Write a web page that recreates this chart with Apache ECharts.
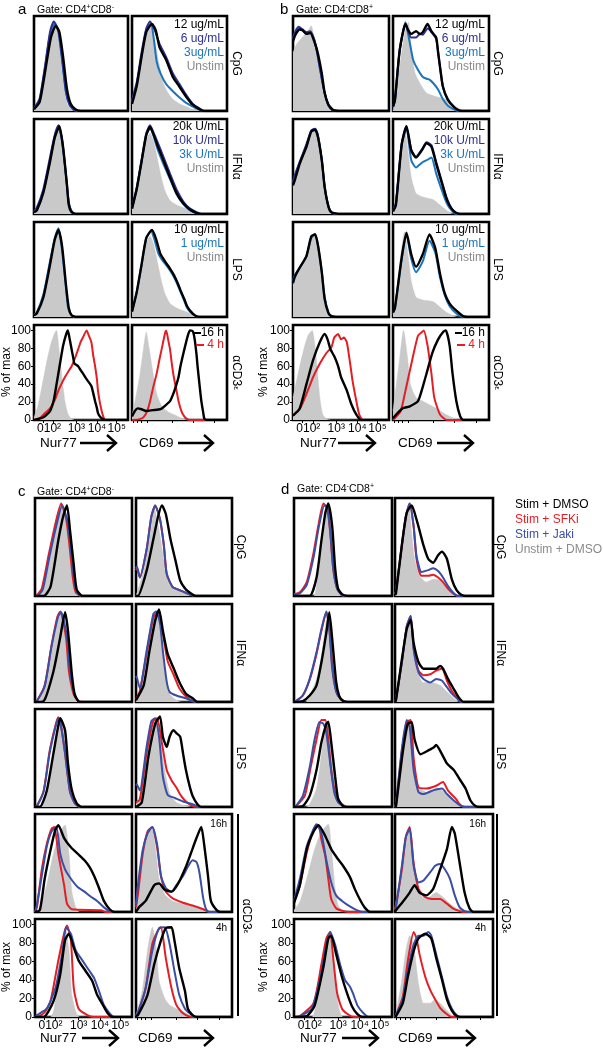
<!DOCTYPE html>
<html><head><meta charset="utf-8">
<script src="https://cdn.jsdelivr.net/npm/echarts@6/dist/echarts.min.js"></script>
<style>html,body{margin:0;padding:0;background:#fff}#c{width:603px;height:1050px}</style>
</head><body><div id="c"></div>
<script>
// ---------- labels ----------
const legendCpG = ['12 ug/mL','6 ug/mL','3ug/mL','Unstim'];
const legendIFN = ['20k U/mL','10k U/mL','3k U/mL','Unstim'];
const legendLPS = ['10 ug/mL','1 ug/mL','Unstim'];
const legendTime = ['16 h','4 h'];
const legendTreat = ['Stim + DMSO','Stim + SFKi','Stim + Jaki','Unstim + DMSO'];
const rowLabels = ['CpG','IFNα','LPS'];
const nurTickVals = [10,21,45,67,88];
const nurLabelVals = [16,45,67,88];
const nurTickLabels = ['010²','10³','10⁴','10⁵'];
const cd69TickVals = [1,5,10,16,42,64,87];
const yTickVals = [0,20,40,60,80,100];
const yTickLabels = ['0','20','40','60','80','100'];

// ---------- data: [position %, % of max] ; order = grey, blue, navy, black ----------
const aCpGNur = [
 [[0,3],[6,12],[12,48],[17,82],[22,97],[26,84],[29,52],[33,18],[36,6],[40,1],[45,0],[100,0]],
 [[0,2],[6,12],[12,50],[17,85],[22,98],[26,88],[30,55],[34,20],[38,6],[43,1],[50,0],[100,0]],
 [[0,3],[6,14],[12,52],[17,88],[21,100],[26,90],[30,58],[34,22],[38,7],[43,1],[50,0],[100,0]],
 [[0,2],[6,10],[12,45],[18,82],[23,95],[27,88],[31,60],[35,25],[39,8],[44,2],[50,0],[100,0]]];
const aCpGCD69 = [
 [[0,8],[5,28],[10,60],[15,88],[20,93],[24,78],[28,55],[33,31],[38,20],[43,13],[50,8],[57,5],[64,2],[71,1],[75,0],[100,0]],
 [[0,10],[5,30],[10,62],[15,90],[20,98],[23,80],[26,55],[30,42],[36,30],[43,22],[50,15],[57,9],[64,5],[70,2],[75,0],[100,0]],
 [[0,12],[5,32],[10,65],[15,92],[19,100],[24,90],[29,75],[36,60],[43,42],[50,30],[57,18],[64,8],[71,3],[76,0],[100,0]],
 [[0,8],[5,28],[10,60],[15,88],[21,97],[25,90],[29,71],[36,57],[43,38],[50,27],[57,16],[64,7],[71,2],[76,0],[100,0]]];
const aIFNNur = [
 [[0,3],[3,6],[10,28],[17,62],[22,86],[26,96],[29,82],[32,50],[35,20],[38,5],[41,1],[45,0],[100,0]],
 [[0,2],[3,5],[10,25],[17,60],[22,86],[26,98],[30,80],[34,42],[37,12],[40,3],[44,0],[100,0]],
 [[0,3],[3,7],[10,28],[17,63],[22,88],[26,99],[30,82],[34,44],[37,13],[40,3],[44,0],[100,0]],
 [[0,2],[3,4],[10,24],[17,58],[22,85],[27,98],[31,74],[35,33],[37,10],[40,2],[45,0],[100,0]]];
const aIFNCD69 = [
 [[0,5],[5,25],[10,55],[15,82],[19,90],[23,80],[27,60],[31,40],[35,25],[40,15],[47,10],[54,7],[61,4],[68,1],[72,0],[100,0]],
 [[0,6],[5,28],[10,58],[15,88],[19,96],[23,86],[27,72],[33,56],[40,39],[47,22],[54,11],[61,4],[68,1],[73,0],[100,0]],
 [[0,7],[5,30],[10,60],[15,90],[19,99],[23,90],[27,80],[33,64],[40,45],[47,27],[54,14],[61,6],[68,2],[73,0],[100,0]],
 [[0,6],[5,28],[10,58],[15,88],[19,97],[23,88],[27,76],[33,60],[40,41],[47,23],[54,12],[61,5],[68,1],[73,0],[100,0]]];
// order = grey, blue, black
const aLPSNur = [
 [[0,3],[3,6],[10,28],[17,64],[22,88],[25,97],[28,82],[31,50],[34,20],[37,5],[40,1],[44,0],[100,0]],
 [[0,2],[3,5],[10,25],[17,62],[22,88],[26,99],[29,82],[33,42],[36,12],[39,3],[43,0],[100,0]],
 [[0,2],[3,4],[10,22],[17,58],[22,86],[26,97],[30,78],[34,36],[37,10],[40,2],[45,0],[100,0]]];
const aLPSCD69 = [
 [[0,5],[5,25],[10,55],[15,82],[19,90],[23,80],[27,60],[31,40],[35,25],[40,15],[47,10],[54,7],[61,4],[68,1],[72,0],[100,0]],
 [[0,6],[5,28],[10,58],[15,88],[20,96],[24,85],[28,70],[32,63],[36,58],[40,52],[44,45],[48,36],[51,28],[55,18],[58,10],[62,5],[66,2],[70,0],[100,0]],
 [[0,6],[5,28],[10,58],[15,88],[21,97],[25,88],[30,70],[33,65],[36,60],[40,54],[44,47],[48,38],[51,30],[55,20],[58,12],[62,6],[66,2],[71,0],[100,0]]];
// order = grey, red (4 h), black (16 h)
const aCD3Nur = [
 [[0,3],[4,15],[8,35],[13,62],[18,85],[22,97],[24,100],[27,75],[30,45],[33,20],[36,7],[39,2],[43,0],[100,0]],
 [[0,0],[6,2],[12,8],[17,13],[22,22],[26,33],[30,42],[33,48],[37,55],[40,60],[44,70],[47,79],[50,88],[52,92],[56,100],[58,95],[61,87],[63,72],[65,60],[67,45],[68,33],[70,20],[72,10],[74,3],[76,0],[100,0]],
 [[0,0],[10,3],[17,10],[21,22],[24,40],[28,65],[31,83],[34,95],[36,100],[38,90],[40,79],[42,68],[43,63],[47,60],[50,55],[52,52],[55,47],[57,44],[61,38],[63,30],[65,21],[67,13],[68,8],[70,4],[72,2],[76,0],[100,0]]];
const aCD3CD69 = [
 [[0,5],[3,20],[8,48],[12,79],[15,98],[18,80],[21,60],[24,40],[26,29],[30,18],[33,13],[38,9],[44,6],[50,3],[55,1],[58,0],[100,0]],
 [[0,0],[8,1],[12,3],[16,10],[19,21],[22,35],[26,52],[29,68],[32,83],[35,98],[36,100],[38,90],[40,79],[42,62],[44,48],[47,32],[49,21],[52,10],[55,4],[58,1],[61,0],[100,0]],
 [[0,4],[3,10],[6,13],[10,12],[15,10],[22,11],[30,12],[35,16],[40,21],[43,28],[46,37],[49,48],[51,60],[54,74],[57,87],[59,95],[61,100],[64,99],[66,90],[68,72],[69,60],[71,40],[73,21],[75,8],[76,2],[78,0],[100,0]]];

const bCpGNur = [
 [[0,65],[4,75],[8,80],[12,85],[16,90],[19,95],[22,82],[25,68],[28,50],[31,32],[33,18],[36,7],[39,2],[43,0],[100,0]],
 [[0,80],[3,88],[6,92],[10,90],[14,86],[18,88],[22,80],[25,66],[28,48],[31,30],[34,16],[37,6],[41,1],[48,0],[100,0]],
 [[0,82],[3,90],[6,94],[10,91],[14,88],[18,89],[22,80],[25,66],[28,48],[31,30],[34,16],[37,6],[41,1],[48,0],[100,0]],
 [[0,78],[3,86],[7,91],[10,90],[14,86],[18,87],[23,75],[26,64],[30,42],[33,20],[37,7],[42,1],[49,0],[100,0]]];
const bCpGCD69 = [
 [[0,0],[2,13],[7,49],[12,86],[16,99],[19,68],[23,42],[28,31],[35,20],[45,16],[56,13],[63,7],[70,2],[75,0],[100,0]],
 [[0,5],[2,12],[7,68],[13,99],[17,79],[21,57],[26,46],[31,38],[35,36],[38,35],[42,31],[47,24],[52,13],[57,6],[63,2],[68,0],[100,0]],
 [[0,5],[2,12],[7,68],[13,97],[16,88],[19,82],[24,82],[28,86],[31,85],[36,92],[40,88],[45,80],[49,49],[52,27],[57,13],[63,5],[68,1],[72,0],[100,0]],
 [[0,5],[2,12],[7,68],[13,97],[16,90],[19,86],[24,89],[28,86],[31,88],[36,97],[40,89],[45,82],[47,65],[49,49],[52,27],[57,13],[63,5],[68,1],[72,0],[100,0]]];
const bIFNNur = [
 [[0,30],[2,38],[7,52],[14,72],[19,90],[22,95],[26,82],[29,58],[31,40],[33,25],[36,10],[38,4],[42,0],[100,0]],
 [[0,35],[2,42],[7,58],[14,76],[19,93],[23,95],[26,88],[30,60],[33,30],[37,8],[40,2],[45,0],[100,0]],
 [[0,36],[2,44],[7,58],[14,78],[19,93],[23,95],[26,86],[30,60],[33,30],[37,8],[40,2],[45,0],[100,0]],
 [[0,32],[2,38],[7,56],[14,75],[19,92],[23,94],[26,86],[30,60],[33,30],[37,8],[40,2],[49,0],[100,0]]];
const bIFNCD69 = [
 [[0,3],[2,12],[7,60],[12,96],[16,67],[19,41],[24,23],[31,19],[42,16],[49,10],[56,4],[63,0],[100,0]],
 [[0,3],[3,10],[9,77],[14,96],[19,60],[24,52],[31,58],[35,60],[40,63],[45,45],[51,26],[56,12],[61,4],[66,0],[100,0]],
 [[0,4],[3,12],[9,78],[14,98],[19,72],[24,64],[30,72],[35,80],[40,77],[45,58],[51,36],[56,18],[61,6],[66,1],[70,0],[100,0]],
 [[0,3],[3,10],[9,77],[14,98],[19,71],[24,63],[30,71],[35,79],[40,75],[45,56],[51,34],[56,16],[61,6],[66,1],[70,0],[100,0]]];
const bLPSNur = [
 [[0,35],[2,42],[7,52],[14,65],[19,85],[22,92],[26,80],[29,55],[31,35],[33,18],[36,6],[39,1],[43,0],[100,0]],
 [[0,40],[2,47],[7,55],[14,68],[19,88],[23,93],[26,80],[30,50],[33,22],[37,5],[40,1],[45,0],[100,0]],
 [[0,38],[2,45],[7,55],[14,68],[19,90],[23,92],[26,80],[30,50],[33,20],[37,4],[40,1],[45,0],[100,0]]];
const bLPSCD69 = [
 [[0,3],[2,12],[7,60],[12,95],[16,66],[19,40],[24,22],[31,19],[42,17],[49,11],[56,5],[63,1],[66,0],[100,0]],
 [[0,5],[2,10],[9,64],[14,92],[19,65],[24,50],[31,62],[38,85],[44,72],[49,44],[54,24],[59,12],[66,4],[73,0],[100,0]],
 [[0,5],[2,10],[9,66],[14,94],[19,70],[24,56],[31,70],[38,92],[44,77],[49,48],[54,26],[59,15],[66,7],[73,1],[78,0],[100,0]]];
const bCD3Nur = [
 [[0,25],[7,60],[12,82],[16,95],[20,100],[23,82],[25,60],[28,24],[31,6],[35,1],[40,0],[100,0]],
 [[0,5],[7,12],[14,29],[21,48],[28,63],[35,75],[40,81],[43,92],[47,96],[50,90],[53,92],[56,87],[59,67],[62,44],[66,21],[69,6],[73,0],[100,0]],
 [[0,5],[7,13],[14,40],[21,67],[28,87],[33,96],[36,90],[39,79],[43,71],[47,60],[50,48],[56,33],[61,17],[66,6],[71,0],[100,0]]];
const bCD3CD69 = [
 [[0,10],[6,60],[11,100],[15,71],[18,40],[24,25],[31,21],[38,17],[45,13],[52,8],[59,4],[66,1],[70,0],[100,0]],
 [[0,0],[8,10],[13,33],[20,67],[26,94],[30,98],[32,100],[36,83],[40,52],[43,25],[49,6],[56,0],[100,0]],
 [[0,2],[10,13],[17,15],[26,21],[31,37],[36,56],[41,75],[47,90],[52,98],[55,100],[59,83],[62,52],[66,21],[70,4],[73,0],[100,0]]];

// panels c/d: order = grey (Unstim+DMSO), red (SFKi), blue (Jaki), black (DMSO)
const cCpGNur = [
 [[0,0],[6,4],[13,27],[20,68],[25,89],[29,98],[33,83],[38,43],[42,14],[45,2],[49,0],[100,0]],
 [[0,0],[2,1],[7,8],[14,44],[21,78],[27,100],[32,84],[35,60],[39,20],[42,4],[48,0],[100,0]],
 [[0,0],[2,0],[8,7],[15,43],[22,76],[28,98],[33,83],[36,60],[40,21],[43,4],[49,0],[100,0]],
 [[0,0],[9,0],[16,10],[24,60],[29,86],[33,98],[36,72],[40,33],[43,7],[49,0],[100,0]]];
const cCpGCD69 = [
 [[0,0],[8,27],[15,68],[19,95],[24,72],[29,39],[34,14],[39,7],[50,4],[57,0],[100,0]],
 [[0,28],[1,30],[4,20],[11,50],[16,86],[20,98],[25,83],[29,55],[32,24],[38,10],[46,6],[53,3],[62,0],[100,0]],
 [[0,30],[1,32],[4,20],[11,50],[16,86],[20,98],[25,83],[29,55],[32,24],[38,10],[46,6],[53,3],[62,0],[100,0]],
 [[0,0],[2,0],[11,27],[18,61],[23,86],[27,98],[31,89],[36,61],[41,39],[46,17],[52,7],[57,3],[62,0],[100,0]]];
const cIFNNur = [
 [[0,0],[5,3],[15,43],[22,82],[27,98],[33,63],[38,22],[41,5],[46,0],[100,0]],
 [[0,0],[2,1],[10,18],[17,61],[23,92],[26,98],[32,70],[35,33],[40,8],[45,1],[50,0],[100,0]],
 [[0,0],[2,1],[10,17],[17,60],[24,93],[27,97],[33,70],[36,33],[41,8],[46,0],[100,0]],
 [[0,0],[9,1],[19,33],[26,70],[31,97],[34,77],[38,30],[41,8],[46,0],[100,0]]];
const cIFNCD69 = [
 [[0,0],[4,11],[11,52],[16,81],[21,97],[25,81],[30,33],[35,9],[42,2],[48,0],[100,0]],
 [[0,3],[4,12],[11,52],[18,91],[23,98],[28,74],[33,44],[39,30],[45,15],[52,6],[59,1],[64,0],[100,0]],
 [[0,28],[1,26],[4,15],[11,55],[18,95],[21,98],[25,85],[28,55],[32,22],[35,11],[42,7],[52,4],[63,0],[100,0]],
 [[0,2],[8,18],[14,55],[20,88],[24,100],[28,77],[33,52],[39,37],[45,22],[52,9],[59,4],[64,0],[100,0]]];
const cLPSNur = [
 [[0,0],[5,1],[9,5],[17,40],[22,76],[27,96],[31,76],[34,40],[38,12],[43,1],[47,0],[100,0]],
 [[0,0],[2,1],[9,18],[15,60],[21,88],[24,97],[27,87],[31,58],[36,17],[41,4],[47,0],[100,0]],
 [[0,0],[2,1],[9,17],[15,58],[21,86],[24,96],[27,86],[31,58],[36,17],[41,4],[47,0],[100,0]],
 [[0,0],[5,0],[12,17],[19,58],[24,88],[26,96],[31,83],[34,47],[38,18],[43,4],[48,0],[100,0]]];
const cLPSCD69 = [
 [[0,3],[4,12],[11,58],[16,86],[20,93],[25,76],[30,40],[35,15],[42,5],[52,1],[58,0],[100,0]],
 [[0,5],[4,8],[11,58],[18,93],[22,96],[27,69],[32,40],[37,29],[42,21],[47,12],[52,6],[59,1],[64,0],[100,0]],
 [[0,25],[1,24],[4,18],[11,65],[16,93],[20,96],[24,76],[28,33],[33,13],[40,10],[49,6],[59,3],[66,0],[100,0]],
 [[0,0],[6,5],[13,55],[20,90],[25,98],[28,76],[32,65],[35,76],[39,83],[42,80],[46,76],[49,58],[52,40],[56,22],[59,12],[64,3],[68,0],[100,0]]];
const cCD3hNur16 = [
 [[0,0],[5,5],[12,29],[19,63],[26,87],[31,94],[35,63],[38,22],[42,5],[46,0],[100,0]],
 [[0,0],[2,5],[7,46],[12,73],[17,90],[20,92],[24,63],[30,29],[33,9],[38,3],[68,2],[73,0],[100,0]],
 [[0,0],[2,8],[7,39],[12,70],[17,87],[22,92],[26,63],[31,46],[37,36],[44,27],[51,22],[57,17],[64,12],[71,5],[77,1],[82,0],[100,0]],
 [[0,0],[5,2],[10,36],[16,67],[21,89],[24,94],[30,80],[37,70],[44,63],[51,56],[56,49],[61,39],[66,26],[71,12],[77,3],[82,0],[100,0]]];
const cCD3hCD6916 = [
 [[0,3],[2,12],[7,63],[12,87],[17,89],[21,63],[24,36],[30,19],[38,12],[49,9],[59,7],[70,3],[76,0],[100,0]],
 [[0,5],[2,19],[7,63],[12,87],[17,92],[22,70],[26,39],[31,22],[38,15],[49,10],[59,7],[70,3],[76,0],[100,0]],
 [[0,8],[2,29],[7,67],[12,85],[17,92],[22,73],[26,39],[31,26],[37,22],[42,29],[49,39],[54,49],[59,56],[63,54],[66,43],[70,15],[73,3],[76,0],[100,0]],
 [[0,0],[3,5],[10,12],[19,29],[24,31],[30,24],[37,22],[44,31],[52,49],[57,63],[63,80],[68,92],[71,73],[75,39],[78,12],[84,2],[88,0],[100,0]]];
const cCD3hNur4 = [
 [[0,0],[16,0],[20,10],[24,53],[28,83],[31,97],[35,72],[38,24],[42,6],[46,0],[100,0]],
 [[0,0],[2,0],[10,5],[16,17],[24,61],[30,90],[33,99],[37,83],[40,31],[45,9],[54,2],[60,0],[100,0]],
 [[0,0],[2,2],[12,9],[21,31],[28,68],[32,97],[37,90],[42,72],[49,61],[56,50],[61,42],[66,28],[71,13],[77,4],[82,0],[100,0]],
 [[0,0],[9,0],[19,17],[26,46],[31,83],[35,90],[40,75],[45,61],[52,50],[59,39],[64,24],[70,13],[75,4],[80,0],[100,0]]];
const cCD3hCD694 = [
 [[0,3],[2,9],[7,31],[12,72],[17,97],[21,75],[24,39],[30,20],[35,13],[42,9],[49,6],[56,2],[62,0],[100,0]],
 [[0,1],[2,4],[10,31],[17,79],[23,94],[26,97],[31,64],[37,31],[42,13],[47,6],[52,2],[58,0],[100,0]],
 [[0,2],[2,5],[10,31],[17,72],[24,96],[30,97],[35,79],[40,50],[45,24],[51,9],[56,4],[62,0],[100,0]],
 [[0,1],[2,2],[12,24],[19,57],[26,83],[31,96],[37,97],[40,83],[45,53],[51,28],[54,9],[59,2],[64,0],[100,0]]];

const dCpGNur = [
 [[0,0],[20,0],[24,20],[29,55],[32,86],[35,100],[39,68],[42,24],[45,4],[49,0],[100,0]],
 [[0,2],[6,4],[13,15],[20,47],[25,77],[30,100],[34,95],[37,68],[40,30],[44,8],[49,1],[55,0],[100,0]],
 [[0,2],[6,3],[13,12],[20,42],[25,73],[31,98],[34,95],[37,70],[40,30],[44,8],[49,1],[55,0],[100,0]],
 [[0,0],[16,0],[23,20],[28,60],[32,90],[35,100],[39,75],[42,30],[45,8],[49,2],[55,0],[100,0]]];
const dCpGCD69 = [
 [[0,1],[1,3],[7,55],[10,75],[14,100],[17,68],[20,40],[25,22],[32,15],[39,18],[46,17],[53,9],[59,2],[63,0],[100,0]],
 [[0,2],[1,5],[7,55],[11,86],[15,100],[19,75],[22,40],[27,22],[34,22],[39,23],[44,20],[49,15],[54,8],[59,3],[64,0],[100,0]],
 [[0,2],[1,5],[7,55],[11,86],[15,100],[19,76],[22,43],[27,26],[34,28],[39,30],[44,27],[49,20],[54,11],[59,4],[64,0],[100,0]],
 [[0,1],[1,3],[7,55],[12,90],[17,98],[20,90],[24,75],[29,55],[34,40],[39,36],[44,44],[48,48],[53,40],[58,18],[63,6],[68,1],[72,0],[100,0]]];
const dIFNNur = [
 [[0,0],[12,0],[16,7],[23,25],[28,50],[32,82],[35,96],[38,72],[42,25],[45,7],[50,1],[54,0],[100,0]],
 [[0,0],[2,1],[9,7],[16,24],[23,52],[28,77],[33,97],[36,82],[39,40],[43,12],[47,4],[54,0],[100,0]],
 [[0,0],[2,1],[9,7],[16,25],[23,54],[28,79],[33,98],[36,79],[39,36],[43,11],[47,4],[54,0],[100,0]],
 [[0,0],[9,1],[16,7],[23,18],[28,43],[33,75],[36,97],[39,68],[43,22],[46,7],[50,1],[55,0],[100,0]]];
const dIFNCD69 = [
 [[0,0],[1,2],[7,39],[11,75],[15,89],[18,57],[24,29],[29,21],[37,21],[46,18],[53,11],[60,4],[65,0],[100,0]],
 [[0,0],[1,3],[7,43],[12,82],[16,93],[19,58],[24,34],[29,29],[36,30],[42,34],[48,36],[53,23],[58,12],[63,5],[68,0],[100,0]],
 [[0,0],[1,3],[7,43],[12,82],[16,93],[19,57],[24,32],[29,25],[36,21],[42,25],[48,23],[53,16],[58,9],[63,4],[68,0],[100,0]],
 [[0,0],[1,2],[7,46],[12,79],[16,89],[19,64],[24,43],[29,36],[36,36],[42,36],[46,39],[49,36],[54,25],[60,14],[65,5],[70,0],[100,0]]];
const dLPSNur = [
 [[0,0],[12,0],[16,3],[23,20],[28,57],[32,87],[35,94],[38,73],[42,27],[45,7],[50,0],[100,0]],
 [[0,0],[2,1],[11,12],[17,43],[23,73],[28,94],[32,94],[35,73],[38,40],[42,16],[47,5],[54,0],[100,0]],
 [[0,0],[2,1],[9,12],[16,43],[21,73],[26,92],[30,90],[33,80],[37,47],[41,16],[45,5],[54,0],[100,0]],
 [[0,0],[9,1],[16,12],[23,40],[28,70],[33,90],[35,92],[38,70],[42,33],[45,9],[50,1],[55,0],[100,0]]];
const dLPSCD69 = [
 [[0,0],[1,3],[7,57],[11,87],[15,90],[19,53],[24,23],[32,16],[42,20],[51,16],[56,10],[63,3],[70,0],[100,0]],
 [[0,0],[1,3],[7,60],[12,92],[16,94],[19,53],[24,21],[32,20],[42,23],[49,27],[54,18],[62,9],[66,3],[71,0],[100,0]],
 [[0,0],[1,3],[7,63],[12,94],[15,87],[19,40],[24,16],[29,14],[39,18],[48,20],[53,14],[60,7],[66,2],[71,0],[100,0]],
 [[0,0],[1,1],[8,60],[13,90],[17,92],[20,73],[26,57],[32,60],[39,64],[42,67],[48,57],[53,47],[60,40],[66,30],[72,20],[77,7],[82,1],[86,0],[100,0]]];
const dCD3hNur16 = [
 [[0,2],[6,11],[13,36],[20,64],[27,85],[35,95],[38,71],[42,25],[45,7],[50,1],[55,0],[100,0]],
 [[0,10],[6,29],[13,64],[20,89],[25,94],[28,78],[32,60],[35,36],[38,14],[43,4],[50,1],[56,0],[100,0]],
 [[0,12],[6,36],[13,71],[20,90],[23,95],[28,85],[33,56],[38,32],[43,18],[50,11],[57,6],[64,2],[70,0],[100,0]],
 [[0,10],[6,29],[13,68],[20,87],[25,94],[32,82],[38,68],[45,57],[50,50],[57,38],[62,25],[67,14],[72,5],[78,0],[100,0]]];
const dCD3hCD6916 = [
 [[0,5],[1,11],[7,46],[11,81],[15,92],[19,46],[24,21],[32,14],[42,21],[49,16],[56,9],[63,4],[70,1],[74,0],[100,0]],
 [[0,3],[1,7],[7,46],[11,81],[15,92],[19,53],[24,25],[31,16],[39,14],[46,14],[53,9],[59,4],[66,1],[70,0],[100,0]],
 [[0,2],[1,5],[7,50],[11,81],[15,90],[19,50],[24,32],[29,34],[36,43],[41,50],[46,52],[51,46],[56,36],[61,18],[66,5],[71,1],[75,0],[100,0]],
 [[0,0],[1,2],[8,11],[15,21],[20,29],[25,21],[32,18],[39,25],[46,46],[53,68],[58,92],[61,85],[66,53],[71,21],[76,4],[80,0],[100,0]]];
const dCD3hNur4 = [
 [[0,0],[18,0],[20,2],[27,33],[32,68],[36,92],[39,75],[43,29],[46,9],[50,0],[100,0]],
 [[0,0],[6,1],[20,15],[28,57],[33,85],[37,92],[40,64],[44,26],[49,9],[55,3],[61,0],[100,0]],
 [[0,0],[6,1],[18,9],[27,43],[33,78],[37,92],[42,78],[47,57],[52,40],[57,33],[60,26],[65,12],[71,4],[76,0],[100,0]],
 [[0,0],[13,1],[21,12],[30,54],[35,85],[38,88],[43,68],[49,43],[54,26],[59,12],[64,4],[70,0],[100,0]]];
const dCD3hCD694 = [
 [[0,0],[1,3],[7,40],[11,71],[15,88],[19,78],[24,36],[29,15],[36,15],[41,19],[46,15],[53,7],[59,1],[62,0],[100,0]],
 [[0,0],[1,2],[8,22],[13,60],[19,92],[22,85],[25,68],[31,43],[36,29],[41,19],[46,10],[53,3],[58,0],[100,0]],
 [[0,0],[1,2],[8,19],[13,50],[19,78],[24,88],[29,88],[34,92],[37,88],[42,68],[48,43],[53,22],[58,9],[63,2],[67,0],[100,0]],
 [[0,0],[1,1],[8,15],[13,43],[19,71],[24,85],[31,90],[37,85],[42,64],[48,40],[53,19],[58,7],[63,1],[67,0],[100,0]]];

// ---------- styling ----------
const FONT = '"Liberation Sans", Arial, Helvetica, sans-serif';
const COL = {grey:'#c9c9c9', black:'#000000', navy:'#2e3192', blue:'#1b75bc', red:'#e31e24', jaki:'#3a4ea6', text:'#8a8a8a'};

const grids = [], xAxes = [], yAxes = [], series = [], graphics = [];

function panel(left, top, w, h, curves, keys, mode, showY) {
  const i = grids.length;
  grids.push({left, top, width: w, height: h, show: true, borderColor: '#000', borderWidth: 2.6, backgroundColor: '#fff'});
  xAxes.push({gridIndex: i, type: 'value', min: 0, max: 100,
    axisLine: {show: false}, splitLine: {show: false},
    axisTick: {show: !!mode, length: 3, customValues: mode === 'nur' ? nurTickVals : cd69TickVals, lineStyle: {color: '#000', width: 1}},
    axisLabel: {show: mode === 'nur', customValues: nurLabelVals, hideOverlap: false, margin: 3, fontSize: 12, color: '#000', fontFamily: FONT,
      formatter: v => { const k = nurLabelVals.indexOf(v); return k >= 0 ? nurTickLabels[k] : ''; }}});
  yAxes.push({gridIndex: i, type: 'value', min: 0, max: 106,
    axisLine: {show: false}, splitLine: {show: false},
    axisTick: {show: !!showY, length: 3, customValues: yTickVals, lineStyle: {color: '#000', width: 1}},
    axisLabel: {show: !!showY, customValues: yTickVals, hideOverlap: false, margin: 3, fontSize: 12, color: '#000', fontFamily: FONT,
      formatter: v => { const k = yTickVals.indexOf(v); return k >= 0 ? yTickLabels[k] : ''; }}});
  curves.forEach((pts, k) => {
    const key = keys[k];
    const s = {type: 'line', xAxisIndex: i, yAxisIndex: i, data: pts, symbol: 'none', smooth: 0.2,
      animation: false, silent: true};
    if (key === 'grey') {
      s.lineStyle = {width: 0.5, color: COL.grey};
      s.areaStyle = {color: COL.grey, opacity: 1};
    } else {
      s.lineStyle = {width: key === 'black' ? 2.4 : 2.0, color: COL[key]};
    }
    series.push(s);
  });
}

function T(x, y, text, size, color, align, rot, rich) {
  const st = {text, fill: color || '#000', fontSize: size, fontFamily: FONT,
    align: align || 'left', textAlign: align || 'left', verticalAlign: 'middle', textVerticalAlign: 'middle'};
  if (rich) st.rich = rich;
  graphics.push({type: 'text', x, y, rotation: rot || 0, style: st, z: 100});
}
function L(x1, y1, x2, y2, color, w) {
  graphics.push({type: 'line', shape: {x1, y1, x2, y2}, style: {stroke: color || '#000', lineWidth: w || 2}, z: 100});
}
function arrow(x1, x2, y) {
  L(x1, y, x2, y, '#000', 2.4);
  graphics.push({type: 'polyline', shape: {points: [[x2 - 9, y - 8], [x2, y], [x2 - 9, y + 8]]},
    style: {stroke: '#000', lineWidth: 2.4, fill: null}, z: 100});
}
const supRich = {t: {fontSize: 10.5, fontFamily: FONT, lineHeight: 12}, s: {fontSize: 7, fontFamily: FONT, verticalAlign: 'top', lineHeight: 12}};
const cd3Rich = {n: {fontSize: 12, fontFamily: FONT}, e: {fontSize: 8, fontFamily: FONT}};
const CW = -Math.PI / 2;

// ---------- layout ----------
const ABROWS = [16, 119, 222, 325], ABH = 95;
const CDROWS = [498, 604, 709, 814, 919], CDH = 98;
const K4 = ['grey', 'blue', 'navy', 'black'], K3 = ['grey', 'blue', 'black'], KT = ['grey', 'red', 'black'];
const KC = ['grey', 'red', 'jaki', 'black'];

// panel a
panel(34, ABROWS[0], 94, ABH, aCpGNur, K4); panel(132, ABROWS[0], 95, ABH, aCpGCD69, K4);
panel(34, ABROWS[1], 94, ABH, aIFNNur, K4); panel(132, ABROWS[1], 95, ABH, aIFNCD69, K4);
panel(34, ABROWS[2], 94, ABH, aLPSNur, K3); panel(132, ABROWS[2], 95, ABH, aLPSCD69, K3);
panel(34, ABROWS[3], 94, ABH, aCD3Nur, KT, 'nur', true); panel(132, ABROWS[3], 95, ABH, aCD3CD69, KT, 'cd');
// panel b
panel(293, ABROWS[0], 96, ABH, bCpGNur, K4); panel(393, ABROWS[0], 96, ABH, bCpGCD69, K4);
panel(293, ABROWS[1], 96, ABH, bIFNNur, K4); panel(393, ABROWS[1], 96, ABH, bIFNCD69, K4);
panel(293, ABROWS[2], 96, ABH, bLPSNur, K3); panel(393, ABROWS[2], 96, ABH, bLPSCD69, K3);
panel(293, ABROWS[3], 96, ABH, bCD3Nur, KT, 'nur', true); panel(393, ABROWS[3], 96, ABH, bCD3CD69, KT, 'cd');
// panels c, d
const cSets = [[cCpGNur, cCpGCD69], [cIFNNur, cIFNCD69], [cLPSNur, cLPSCD69], [cCD3hNur16, cCD3hCD6916], [cCD3hNur4, cCD3hCD694]];
const dSets = [[dCpGNur, dCpGCD69], [dIFNNur, dIFNCD69], [dLPSNur, dLPSCD69], [dCD3hNur16, dCD3hCD6916], [dCD3hNur4, dCD3hCD694]];
cSets.forEach((p, r) => {
  const last = r === 4;
  panel(35, CDROWS[r], 97, CDH, p[0], KC, last ? 'nur' : null, last);
  panel(136, CDROWS[r], 96, CDH, p[1], KC, last ? 'cd' : null);
});
dSets.forEach((p, r) => {
  const last = r === 4;
  panel(294, CDROWS[r], 98, CDH, p[0], KC, last ? 'nur' : null, last);
  panel(395, CDROWS[r], 98, CDH, p[1], KC, last ? 'cd' : null);
});

// ---------- texts ----------
T(18, 10, 'a', 15); T(280, 10, 'b', 15); T(18, 492, 'c', 15); T(281, 490, 'd', 15);
T(37, 10, '{t|Gate: CD4}{s|+}{t|CD8}{s|-}', 10.5, '#000', 'left', 0, supRich);
T(296, 10, '{t|Gate: CD4}{s|-}{t|CD8}{s|+}', 10.5, '#000', 'left', 0, supRich);
T(37, 492, '{t|Gate: CD4}{s|+}{t|CD8}{s|-}', 10.5, '#000', 'left', 0, supRich);
T(297, 489, '{t|Gate: CD4}{s|-}{t|CD8}{s|+}', 10.5, '#000', 'left', 0, supRich);

// row labels
rowLabels.forEach((s, r) => {
  T(236, ABROWS[r] + ABH / 2, s, 12, '#000', 'center', CW);
  T(497, ABROWS[r] + ABH / 2, s, 12, '#000', 'center', CW);
  T(240, CDROWS[r] + CDH / 2, s, 12, '#000', 'center', CW);
  T(500, CDROWS[r] + CDH / 2, s, 12, '#000', 'center', CW);
});
T(236, ABROWS[3] + ABH / 2, '{n|αCD3}{e|ε}', 12, '#000', 'center', CW, cd3Rich);
T(497, ABROWS[3] + ABH / 2, '{n|αCD3}{e|ε}', 12, '#000', 'center', CW, cd3Rich);
L(238, 814, 238, 1016, '#000', 2); L(497, 814, 497, 1016, '#000', 2);
T(246, 916, '{n|αCD3}{e|ε}', 12, '#000', 'center', CW, cd3Rich);
T(505, 916, '{n|αCD3}{e|ε}', 12, '#000', 'center', CW, cd3Rich);

// legends a/b
const legCol4 = [COL.black, COL.navy, COL.blue, COL.text];
const legCol3 = [COL.black, COL.blue, COL.text];
[224, 485].forEach(xr => {
  legendCpG.forEach((s, k) => T(xr, ABROWS[0] + 9 + 14 * k, s, 12, legCol4[k], 'right'));
  legendIFN.forEach((s, k) => T(xr, ABROWS[1] + 8 + 14 * k, s, 12, legCol4[k], 'right'));
  legendLPS.forEach((s, k) => T(xr, ABROWS[2] + 8 + 14 * k, s, 12, legCol3[k], 'right'));
  T(xr, ABROWS[3] + 8, legendTime[0], 12, COL.black, 'right');
  T(xr, ABROWS[3] + 20, legendTime[1], 12, COL.red, 'right');
  L(xr - 30, ABROWS[3] + 8, xr - 23, ABROWS[3] + 8, COL.black, 2);
  L(xr - 28, ABROWS[3] + 20, xr - 20, ABROWS[3] + 20, COL.red, 2);
});
// legend d
const treatCol = [COL.black, COL.red, COL.jaki, COL.text];
legendTreat.forEach((s, k) => T(515, 505 + 15 * k, s, 12, treatCol[k], 'left'));
// time labels c/d
T(227, 824, '16h', 10, '#000', 'right'); T(486, 824, '16h', 10, '#000', 'right');
T(227, 928, '4h', 10, '#000', 'right'); T(486, 928, '4h', 10, '#000', 'right');

// y titles
T(7, 372, '% of max', 12, '#000', 'center', Math.PI / 2);
T(264, 372, '% of max', 12, '#000', 'center', Math.PI / 2);
T(7, 967, '% of max', 12, '#000', 'center', Math.PI / 2);
T(264, 967, '% of max', 12, '#000', 'center', Math.PI / 2);

// x titles with arrows
[[40, 80, 116, 139, 178, 213, 443], [300, 338, 375, 398, 437, 473, 443],
 [40, 82, 118, 138, 178, 213, 1038], [300, 342, 378, 398, 437, 475, 1038]].forEach(([n, a1, a2, c, b1, b2, y]) => {
  T(n, y, 'Nur77', 13.5); arrow(a1, a2, y);
  T(c, y, 'CD69', 13.5); arrow(b1, b2, y);
});

const chart = echarts.init(document.getElementById('c'), null, {renderer: 'canvas'});
chart.setOption({animation: false, grid: grids, xAxis: xAxes, yAxis: yAxes, series, graphic: {elements: graphics}});
</script></body></html>
